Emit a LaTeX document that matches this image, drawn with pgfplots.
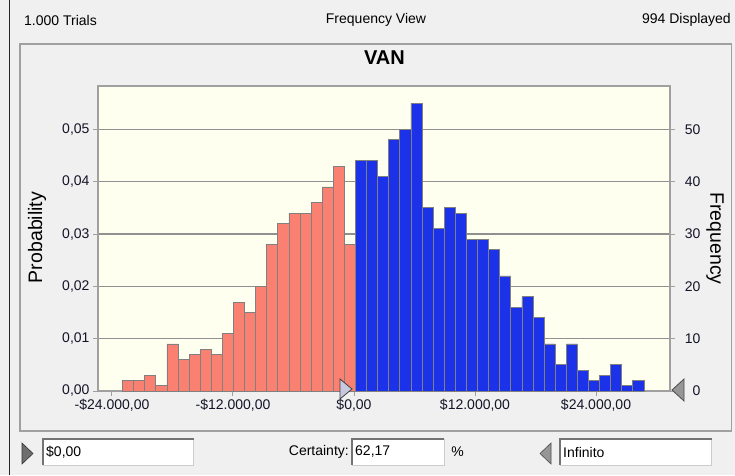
\documentclass[border=0pt]{standalone}
\usepackage{pgfplots}
\pgfplotsset{compat=1.18}
\usepackage{fontspec}
\setmainfont{Liberation Sans}
\definecolor{winbg}{RGB}{240,240,240}
\definecolor{ivory}{RGB}{255,255,240}
\definecolor{salmonbar}{RGB}{250,128,114}
\definecolor{bluebar}{RGB}{28,50,232}
\definecolor{framec}{RGB}{160,160,160}
\definecolor{barline}{RGB}{128,128,128}
\definecolor{trilight}{RGB}{200,200,222}
\definecolor{tridark}{RGB}{110,110,110}
\definecolor{trimid}{RGB}{150,150,150}
\definecolor{labelc}{RGB}{20,20,40}
\begin{document}
\begin{tikzpicture}[x=1pt,y=1pt]
\useasboundingbox (0,0) rectangle (735,475);
\fill[winbg] (0,0) rectangle (735,475);
\draw[line width=1.2pt, black!85] (9.5,0) -- (9.5,475);
\draw[framec, line width=1.5pt] (20,44) rectangle (731.5,431);
% header
\node[anchor=west, font=\fontsize{14}{16}\selectfont, inner sep=0pt] at (24,455) {1.000 Trials};
\node[font=\fontsize{14}{16}\selectfont, inner sep=0pt] at (376,455) {Frequency View};
\node[anchor=east, font=\fontsize{14}{16}\selectfont, inner sep=0pt] at (731,455) {994 Displayed};
\node[font=\fontsize{20}{22}\selectfont\bfseries, inner sep=0pt] at (384.5,417) {VAN};
\node[rotate=90, font=\fontsize{19.5}{22}\selectfont, inner sep=0pt] at (37,237.5) {Probability};
\node[rotate=-90, font=\fontsize{19.5}{22}\selectfont, inner sep=0pt] at (715,236.5) {Frequency};
\begin{axis}[
  at={(98pt,84pt)}, anchor=south west, scale only axis,
  width=572pt, height=305pt,
  xmin=-25387, xmax=31338, ymin=0, ymax=58.3,
  scaled x ticks=false, scaled y ticks=false,
  axis background/.style={fill=ivory},
  axis line style={framec, line width=1.2pt},
  xtick={-24000,-12000,0,12000,24000},
  xticklabels={{-\$24.000,00},{-\$12.000,00},{\$0,00},{\$12.000,00},{\$24.000,00}},
  ytick={0,10,20,30,40,50},
  yticklabels={{0,00},{0,01},{0,02},{0,03},{0,04},{0,05}},
  xtick pos=lower, ytick pos=left,
  tick align=outside, major tick length=5pt,
  tick style={framec, line width=1pt},
  ymajorgrids, grid style={framec!90!black, line width=1.2pt},
  tick label style={font=\fontsize{14}{16}\selectfont, text=labelc},
  /pgf/number format/assume math mode=true,
]
\addplot[ybar interval, fill=salmonbar, draw=barline, line width=0.8pt] coordinates {
(-22950,2) (-21850,2) (-20750,3) (-19650,1) (-18550,9) (-17450,6) (-16350,7)
(-15250,8) (-14150,7) (-13050,11) (-11950,17) (-10850,15) (-9750,20) (-8650,28)
(-7550,32) (-6450,34) (-5350,34) (-4250,36) (-3150,39) (-2050,43) (-950,28) (150,28)};
\addplot[ybar interval, fill=bluebar, draw=barline, line width=0.8pt] coordinates {
(150,44) (1250,44) (2350,41) (3450,48) (4550,50) (5650,55) (6750,35) (7850,31)
(8950,35) (10050,34) (11150,29) (12250,29) (13350,27) (14450,22) (15550,16)
(16650,18) (17750,14) (18850,9) (19950,5) (21050,9) (22150,4) (23250,2)
(24350,3) (25450,5) (26550,1) (27650,2) (28750,2)};
\end{axis}
\begin{axis}[
  at={(98pt,84pt)}, anchor=south west, scale only axis,
  width=572pt, height=305pt,
  xmin=-25387, xmax=31338, ymin=0, ymax=58.3,
  scaled x ticks=false, scaled y ticks=false,
  axis x line=none, axis y line*=right,
  axis line style={framec, line width=1.2pt},
  ytick={0,10,20,30,40,50},
  tick align=outside, major tick length=5pt,
  tick style={framec, line width=1pt},
  tick label style={font=\fontsize{14}{16}\selectfont, text=labelc},
  yticklabel style={anchor=east, xshift=29pt},
  /pgf/number format/assume math mode=true,
]
\end{axis}
% markers
\filldraw[fill=trilight, draw=black!75, line width=0.8pt] (340,96) -- (352,86) -- (340,76) -- cycle;
\filldraw[fill=trimid, draw=black!70, line width=0.8pt] (684,96) -- (672,85) -- (684,74) -- cycle;
% bottom controls
\filldraw[fill=tridark, draw=black!80, line width=0.6pt] (22,32) -- (33,21.5) -- (22,11) -- cycle;
\filldraw[fill=white, draw=black!20, line width=1pt] (43,10) rectangle (193.5,36);
\draw[black!55, line width=1.5pt] (43,10) -- (43,36) -- (193.5,36);
\node[anchor=west, font=\fontsize{14}{16}\selectfont, inner sep=0pt] at (46,23) {\$0,00};
\node[anchor=east, font=\fontsize{14}{16}\selectfont, inner sep=0pt] at (349,23) {Certainty:};
\filldraw[fill=white, draw=black!20, line width=1pt] (352,10) rectangle (444,36);
\draw[black!55, line width=1.5pt] (352,10) -- (352,36) -- (444,36);
\node[anchor=west, font=\fontsize{14}{16}\selectfont, inner sep=0pt] at (355,23) {62,17};
\node[font=\fontsize{14}{16}\selectfont, inner sep=0pt] at (457.5,23) {\%};
\filldraw[fill=trimid, draw=black!70, line width=0.6pt] (551,32) -- (540,21.5) -- (551,11) -- cycle;
\filldraw[fill=white, draw=black!20, line width=1pt] (560,10) rectangle (711.5,36);
\draw[black!55, line width=1.5pt] (560,10) -- (560,36) -- (711.5,36);
\node[anchor=west, font=\fontsize{14}{16}\selectfont, inner sep=0pt] at (563,23) {Infinito};
\end{tikzpicture}
\end{document}
